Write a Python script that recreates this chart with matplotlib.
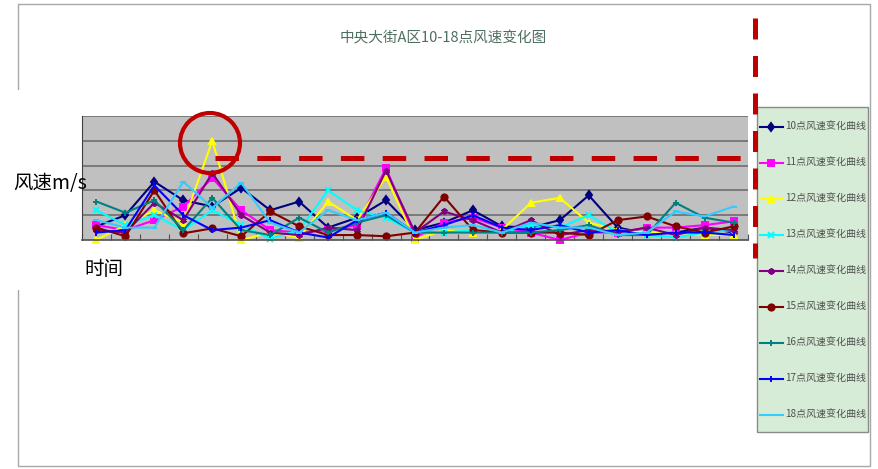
import numpy as np
import matplotlib
matplotlib.use("Agg")
import matplotlib.pyplot as plt
from matplotlib.lines import Line2D
from matplotlib.patches import Rectangle, Ellipse

plt.rcParams['font.family'] = ['Noto Sans CJK SC', 'DejaVu Sans']
plt.rcParams['lines.scale_dashes'] = False

# observation index along the time axis (23 readings)
obs = list(range(1, 24))

hours = ["10", "11", "12", "13", "14", "15", "16", "17", "18"]
labels = [h + "点风速变化曲线" for h in hours]

s10 = [0.55, 1.0, 2.35, 1.6, 1.35, 2.1, 1.2, 1.55, 0.5, 0.9, 1.6, 0.4, 0.7, 1.2, 0.55, 0.5, 0.8, 1.8, 0.5, 0.27, 0.3, 0.5, 0.3]
s11 = [0.6, 0.4, 0.8, 1.35, 2.5, 1.2, 0.4, 0.3, 0.4, 0.6, 2.9, 0.1, 0.7, 0.9, 0.5, 0.3, 0.0, 0.3, 0.3, 0.5, 0.5, 0.6, 0.75]
s12 = [0.0, 0.6, 1.2, 0.7, 4.0, 0.0, 0.3, 0.1, 1.55, 0.8, 2.55, 0.0, 0.4, 0.3, 0.4, 1.5, 1.7, 0.7, 0.4, 0.3, 0.3, 0.2, 0.2]
s13 = [1.2, 0.6, 1.0, 0.4, 1.2, 0.6, 0.05, 0.4, 2.0, 1.2, 0.9, 0.3, 0.3, 0.4, 0.3, 0.6, 0.5, 1.0, 0.3, 0.2, 0.1, 0.3, 0.4]
s14 = [0.4, 0.3, 1.5, 0.8, 2.7, 1.0, 0.3, 0.2, 0.5, 0.4, 2.8, 0.3, 1.15, 0.8, 0.3, 0.8, 0.2, 0.4, 0.3, 0.5, 0.2, 0.5, 0.4]
s15 = [0.5, 0.15, 2.0, 0.27, 0.47, 0.15, 1.15, 0.55, 0.2, 0.2, 0.15, 0.3, 1.75, 0.4, 0.3, 0.3, 0.3, 0.2, 0.8, 0.95, 0.55, 0.3, 0.55]
s16 = [1.55, 1.1, 1.6, 0.4, 1.7, 0.4, 0.2, 0.9, 0.3, 0.7, 1.0, 0.3, 0.3, 0.3, 0.3, 0.3, 0.4, 0.6, 0.2, 0.2, 1.5, 0.9, 0.7]
s17 = [0.3, 0.4, 2.2, 1.0, 0.4, 0.5, 0.8, 0.3, 0.1, 0.8, 1.1, 0.3, 0.6, 1.0, 0.5, 0.4, 0.6, 0.3, 0.4, 0.2, 0.3, 0.3, 0.2]
s18 = [0.8, 0.5, 0.5, 2.35, 1.3, 2.3, 0.7, 0.3, 1.2, 0.8, 1.1, 0.3, 0.5, 0.6, 0.3, 0.7, 0.5, 0.5, 0.2, 0.3, 1.15, 0.95, 1.35]

series = [s10, s11, s12, s13, s14, s15, s16, s17, s18]
colors = ["#000080", "#FF00FF", "#FFFF00", "#00FFFF", "#800080",
          "#800000", "#008080", "#0000FF", "#33CCFF"]
markers = ["d", "s", "^", "x", (6, 2, 0), "o", "+", "|", "_"]

W, H = 879, 469
fig = plt.figure(figsize=(W / 100, H / 100), dpi=100)


def fx(x):
    return x / W


def fy(y):
    return 1 - y / H


# outer chart frame
fig.patches.append(Rectangle((fx(18), fy(466)), fx(870) - fx(18), fy(4) - fy(466),
                             transform=fig.transFigure, fill=False,
                             edgecolor="#a8a8a8", linewidth=1.0, zorder=0))

ax = fig.add_axes([fx(82), fy(240), fx(748) - fx(82), fy(116) - fy(240)])
ax.set_facecolor("#c0c0c0")
x = np.arange(len(obs))
for vals, c, m, lab in zip(series, colors, markers, labels):
    ax.plot(x, vals, color=c, marker=m, markersize=4.5, markeredgewidth=1.4,
            markerfacecolor=c, markeredgecolor=c, linewidth=1.5, label=lab,
            clip_on=False)

ax.set_xlim(-0.5, len(obs) - 0.5)
ax.set_ylim(0, 5)
ax.set_yticks([1, 2, 3, 4, 5])
ax.yaxis.grid(True, color="#6e6e6e", linewidth=1.2)
ax.set_axisbelow(True)
ax.set_xticks(np.arange(len(obs) + 1) - 0.5)
ax.tick_params(axis="x", direction="in", length=4, color="#505050",
               labelbottom=False)
ax.tick_params(axis="y", length=0, labelleft=False)
for side in ("top", "right"):
    ax.spines[side].set_visible(False)
ax.spines["left"].set_color("#404040")
ax.spines["bottom"].set_color("#505050")
ax.spines["bottom"].set_linewidth(1.2)

fig.text(fx(443), fy(38), "中央大街A区10-18点风速变化图", ha="center", va="center",
         fontsize=10.5, color="#4f6f60")

# white label boxes pasted over the frame
fig.patches.append(Rectangle((0, fy(290)), fx(80), fy(90) - fy(290),
                             transform=fig.transFigure, facecolor="white",
                             edgecolor="none", zorder=1))
fig.text(fx(13), fy(184), "风速m/s", ha="left", va="center", fontsize=14,
         color="black", zorder=2)
fig.text(fx(104), fy(269), "时间", ha="center", va="center", fontsize=14,
         color="black", zorder=2)

# legend box background, then the legend entries on top
fig.patches.append(Rectangle((fx(757), fy(432)), fx(868) - fx(757), fy(107) - fy(432),
                             transform=fig.transFigure, facecolor="#d6ecd6",
                             edgecolor="#8a8a8a", linewidth=1.0, zorder=3))
leg = fig.legend(loc="upper left", bbox_to_anchor=(fx(760), fy(122)),
                 bbox_transform=fig.transFigure, borderaxespad=0,
                 fontsize=7.2, labelspacing=2.6, handlelength=2.3,
                 handletextpad=0.2, borderpad=0, frameon=False,
                 labelcolor="#505050")
leg.set_zorder(4)

# red highlight marks
fig.patches.append(Ellipse((fx(210), fy(143)), 60 / W, 60 / H,
                           transform=fig.transFigure, fill=False,
                           edgecolor="#c00000", linewidth=3.0, zorder=5))
fig.lines.append(Line2D([fx(215), fx(742)], [fy(158), fy(158)],
                        transform=fig.transFigure, color="#c00000",
                        linewidth=3.6, linestyle=(0, (16.9, 13.2)),
                        solid_capstyle="butt", dash_capstyle="butt", zorder=5))
fig.lines.append(Line2D([fx(755), fx(755)], [fy(18), fy(258)],
                        transform=fig.transFigure, color="#c00000",
                        linewidth=3.6, linestyle=(0, (15.1, 11.9)),
                        dash_capstyle="butt", zorder=5))

fig.savefig("out.png", dpi=100)
